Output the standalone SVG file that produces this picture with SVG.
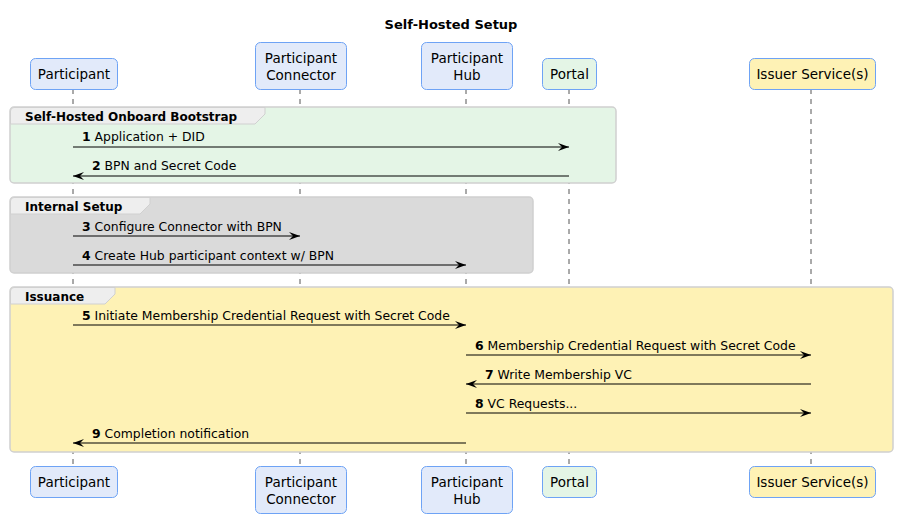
<svg xmlns="http://www.w3.org/2000/svg" width="898" height="519" viewBox="0 0 898 519">
<style>
text{font-family:"DejaVu Sans","Liberation Sans",Arial,sans-serif;fill:#000}
.title{font-size:13px;font-weight:bold}
.pl{font-size:13.5px;text-anchor:middle}
.ml{font-size:12.4px}
.gl{font-size:12px;font-weight:bold}
.b{font-weight:bold}
.pbox{stroke:#6ea3f5;stroke-width:1}
.blue{fill:#e2eafa}
.green{fill:#e4f5e6}
.yellow{fill:#fef2b5}
.life{stroke:#555;stroke-width:1;stroke-dasharray:5,5}
.grp{stroke:#d0d0d0;stroke-width:1.5}
.tab{fill:#eeeeee;stroke:#d0d0d0;stroke-width:1}
.msg{stroke:#000;stroke-width:1;fill:none}
</style>
<defs>
<marker id="ah" viewBox="0 0 12 10" refX="11" refY="5" markerWidth="12" markerHeight="10" markerUnits="userSpaceOnUse" orient="auto-start-reverse">
<path d="M0,1 L11,5 L0,9 L4,5 Z" fill="#000"/>
</marker>
</defs>
<rect width="898" height="519" fill="#fff"/>
<text class="title" x="451" y="29" text-anchor="middle">Self-Hosted Setup</text>

<g id="lifelines">
<line class="life" x1="73" y1="89" x2="73" y2="467"/>
<line class="life" x1="300" y1="89" x2="300" y2="467"/>
<line class="life" x1="466" y1="89" x2="466" y2="467"/>
<line class="life" x1="569" y1="89" x2="569" y2="467"/>
<line class="life" x1="811" y1="89" x2="811" y2="467"/>
</g>

<g id="group-bootstrap">
<rect class="grp green" x="10" y="107" width="606" height="76" rx="4"/>
<path class="tab" d="M10.5,111 Q10.5,107.5 14,107.5 L265,107.5 L265,114 L255,124 L10.5,124 Z"/>
<text class="gl" x="25" y="121">Self-Hosted Onboard Bootstrap</text>
</g>
<g id="group-internal">
<rect class="grp" fill="#dadada" x="10" y="197" width="523" height="76" rx="4"/>
<path class="tab" d="M10.5,201 Q10.5,197.5 14,197.5 L150,197.5 L150,204 L140,214 L10.5,214 Z"/>
<text class="gl" x="25" y="211">Internal Setup</text>
</g>
<g id="group-issuance">
<rect class="grp yellow" x="10" y="287" width="883" height="165" rx="4"/>
<path class="tab" d="M10.5,291 Q10.5,287.5 14,287.5 L115,287.5 L115,294 L105,304 L10.5,304 Z"/>
<text class="gl" x="25" y="301">Issuance</text>
</g>

<g id="participant-top">
<rect class="pbox blue" x="30.5" y="58.5" width="87" height="31" rx="5"/>
<text class="pl" x="74" y="79">Participant</text>
</g>
<g id="connector-top">
<rect class="pbox blue" x="255.5" y="42.5" width="91" height="47" rx="5"/>
<text class="pl" x="301" y="63">Participant</text>
<text class="pl" x="301" y="80">Connector</text>
</g>
<g id="hub-top">
<rect class="pbox blue" x="421.5" y="42.5" width="91" height="47" rx="5"/>
<text class="pl" x="467" y="63">Participant</text>
<text class="pl" x="467" y="80">Hub</text>
</g>
<g id="portal-top">
<rect class="pbox green" x="542.5" y="58.5" width="54" height="31" rx="5"/>
<text class="pl" x="569.5" y="79">Portal</text>
</g>
<g id="issuer-top">
<rect class="pbox yellow" x="749.5" y="58.5" width="126" height="31" rx="5"/>
<text class="pl" x="812.5" y="79">Issuer Service(s)</text>
</g>

<g id="participant-bottom">
<rect class="pbox blue" x="30.5" y="466.5" width="87" height="31" rx="5"/>
<text class="pl" x="74" y="487">Participant</text>
</g>
<g id="connector-bottom">
<rect class="pbox blue" x="255.5" y="466.5" width="91" height="47" rx="5"/>
<text class="pl" x="301" y="487">Participant</text>
<text class="pl" x="301" y="504">Connector</text>
</g>
<g id="hub-bottom">
<rect class="pbox blue" x="421.5" y="466.5" width="91" height="47" rx="5"/>
<text class="pl" x="467" y="487">Participant</text>
<text class="pl" x="467" y="504">Hub</text>
</g>
<g id="portal-bottom">
<rect class="pbox green" x="542.5" y="466.5" width="54" height="31" rx="5"/>
<text class="pl" x="569.5" y="487">Portal</text>
</g>
<g id="issuer-bottom">
<rect class="pbox yellow" x="749.5" y="466.5" width="126" height="31" rx="5"/>
<text class="pl" x="812.5" y="487">Issuer Service(s)</text>
</g>

<g id="connectors">
<line class="msg" x1="73" y1="147" x2="569" y2="147" marker-end="url(#ah)"/>
<text class="ml" x="82" y="141"><tspan class="b">1</tspan> Application + DID</text>
<line class="msg" x1="569" y1="176" x2="73" y2="176" marker-end="url(#ah)"/>
<text class="ml" x="92" y="170"><tspan class="b">2</tspan> BPN and Secret Code</text>
<line class="msg" x1="73" y1="236" x2="300" y2="236" marker-end="url(#ah)"/>
<text class="ml" x="82" y="231"><tspan class="b">3</tspan> Configure Connector with BPN</text>
<line class="msg" x1="73" y1="265" x2="466" y2="265" marker-end="url(#ah)"/>
<text class="ml" x="82" y="260"><tspan class="b">4</tspan> Create Hub participant context w/ BPN</text>
<line class="msg" x1="73" y1="325" x2="466" y2="325" marker-end="url(#ah)"/>
<text class="ml" x="82" y="320"><tspan class="b">5</tspan> Initiate Membership Credential Request with Secret Code</text>
<line class="msg" x1="466" y1="355" x2="811" y2="355" marker-end="url(#ah)"/>
<text class="ml" x="475" y="350"><tspan class="b">6</tspan> Membership Credential Request with Secret Code</text>
<line class="msg" x1="811" y1="384" x2="466" y2="384" marker-end="url(#ah)"/>
<text class="ml" x="485" y="379"><tspan class="b">7</tspan> Write Membership VC</text>
<line class="msg" x1="466" y1="413" x2="811" y2="413" marker-end="url(#ah)"/>
<text class="ml" x="475" y="408"><tspan class="b">8</tspan> VC Requests...</text>
<line class="msg" x1="466" y1="443" x2="73" y2="443" marker-end="url(#ah)"/>
<text class="ml" x="92" y="438"><tspan class="b">9</tspan> Completion notification</text>
</g>
</svg>
